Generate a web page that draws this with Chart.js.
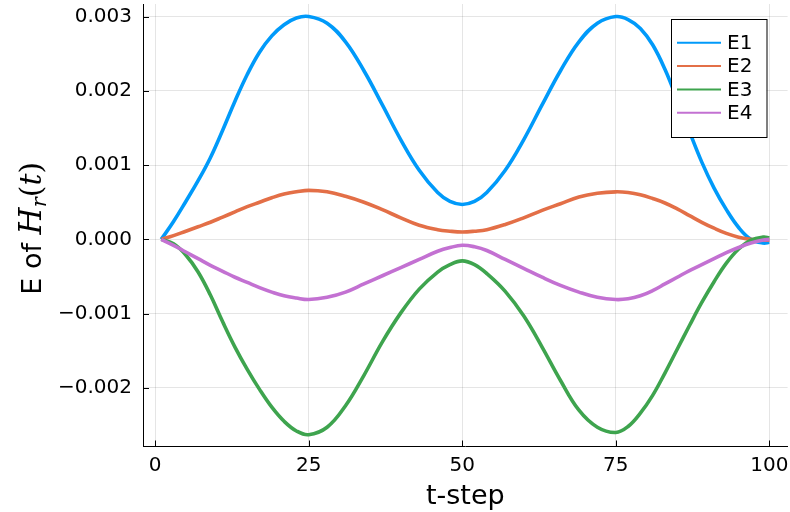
<!DOCTYPE html>
<html><head><meta charset="utf-8">
<script src="https://cdn.jsdelivr.net/npm/chart.js@4.4.0/dist/chart.umd.min.js"></script>
<style>html,body{margin:0;padding:0;background:#fff;}#wrap{width:790px;height:512px;}</style>
</head><body><div id="wrap"><canvas id="c" width="790" height="512"></canvas></div>
<script>
// ---- data ----
const tSteps = [1,3,5,7,9,11,13,15,17,19,21,23,25,28,31,34,37,40,43,46,48,50,52,54,57,60,63,66,69,72,75,77,79,81,83,85,87,89,91,93,95,97,99,100];
const seriesNames = ['E1','E2','E3','E4'];
const e1 = [0,0.00024,0.00051,0.00079,0.00110,0.00147,0.00186,0.00222,0.00252,0.00274,0.00289,0.00298,0.00300,
            0.00291,0.00266,0.00227,0.00181,0.00134,0.00093,0.00063,0.00051,0.00047,0.00051,0.00063,0.00093,0.00134,0.00181,0.00227,0.00266,0.00291,
            0.00300,0.00296,0.00284,0.00262,0.00229,0.00188,0.00145,0.00104,0.00069,0.00040,0.00016,0.00000,-0.00005,-0.00004];
const e2 = [0,0.00005,0.00011,0.00017,0.00023,0.00030,0.00037,0.00044,0.00050,0.00056,0.00061,0.00064,0.00066,
            0.00064,0.00058,0.00050,0.00040,0.00029,0.00019,0.00013,0.00011,0.00010,0.00011,0.00013,0.00020,0.00029,0.00039,0.00048,0.00057,0.00062,
            0.00064,0.00063,0.00060,0.00055,0.00049,0.00041,0.00032,0.00023,0.00015,0.00008,0.00003,0.00000,-0.00001,-0.00001];
const e3 = [0,-0.00006,-0.00021,-0.00044,-0.00075,-0.00111,-0.00145,-0.00175,-0.00202,-0.00226,-0.00245,-0.00258,-0.00263,
            -0.00253,-0.00224,-0.00183,-0.00138,-0.00099,-0.00067,-0.00044,-0.00034,-0.00029,-0.00034,-0.00046,-0.00070,-0.00103,-0.00145,-0.00190,-0.00230,-0.00253,
            -0.00260,-0.00252,-0.00234,-0.00210,-0.00180,-0.00148,-0.00116,-0.00085,-0.00057,-0.00032,-0.00013,-0.00001,0.00003,0.00002];
const e4 = [0,-0.00008,-0.00017,-0.00026,-0.00035,-0.00043,-0.00051,-0.00058,-0.00065,-0.00071,-0.00076,-0.00079,-0.00081,
            -0.00078,-0.00071,-0.00060,-0.00049,-0.00038,-0.00027,-0.00016,-0.00011,-0.00008,-0.00010,-0.00015,-0.00027,-0.00039,-0.00051,-0.00062,-0.00071,-0.00078,
            -0.00081,-0.00080,-0.00076,-0.00069,-0.00060,-0.00051,-0.00042,-0.00034,-0.00026,-0.00018,-0.00011,-0.00005,-0.00001,0.00000];
const xTickValues = [0,25,50,75,100];
const yTickValues = [-0.002,-0.001,0,0.001,0.002,0.003];
const xLabel = 't-step';

// ---- styles ----
const seriesColors = ['#009AFA','#E36F47','#3EA44E','#C371D2'];
const FONT = 'DejaVu Sans';
const allSeries = [e1,e2,e3,e4];

const datasets = allSeries.map((s,k)=>({
  label: seriesNames[k],
  data: tSteps.map((t,i)=>({x:t,y:s[i]})),
  borderColor: seriesColors[k],
  backgroundColor: seriesColors[k],
  borderWidth: 3.6,
  pointRadius: 0,
  fill: false,
  tension: 0.4,
  order: allSeries.length - k
}));

const decor = {
  id: 'decor',
  afterDatasetsDraw(chart){
    const ctx = chart.ctx, a = chart.chartArea;
    const xs = chart.scales.x, ys = chart.scales.y;
    ctx.save();
    // inner tick marks
    ctx.strokeStyle = '#000'; ctx.lineWidth = 1;
    ctx.beginPath();
    xTickValues.forEach(v=>{ const px = Math.round(xs.getPixelForValue(v))+0.5; ctx.moveTo(px, a.bottom); ctx.lineTo(px, a.bottom-6); });
    yTickValues.forEach(v=>{ const py = Math.round(ys.getPixelForValue(v))+0.5; ctx.moveTo(a.left, py); ctx.lineTo(a.left+6, py); });
    ctx.stroke();
    // legend
    const bx = 671, by = 19.5, bw = 95.5, bh = 118;
    ctx.fillStyle = '#fff'; ctx.fillRect(bx, by, bw, bh);
    ctx.strokeStyle = '#000'; ctx.lineWidth = 1; ctx.strokeRect(bx+0.5, by, bw, bh);
    ctx.font = '20px "' + FONT + '"'; ctx.textBaseline = 'middle'; ctx.textAlign = 'left';
    chart.data.datasets.forEach((d,i)=>{
      const cy = 42.7 + i*23.35;
      ctx.strokeStyle = d.borderColor; ctx.lineWidth = 2;
      ctx.beginPath(); ctx.moveTo(677, cy); ctx.lineTo(721, cy); ctx.stroke();
      ctx.fillStyle = '#000'; ctx.fillText(d.label, 727, cy+1);
    });
    // y axis title: E of H_r(t)
    const parts = [
      {t:'E of ', f:'27px "' + FONT + '"', dy:0},
      {t:'H', f:'italic 31px "DejaVu Serif"', dy:0},
      {t:'r', f:'italic 21px "DejaVu Serif"', dy:5},
      {t:'(', f:'30px "DejaVu Serif"', dy:0},
      {t:'t', f:'italic 30px "DejaVu Serif"', dy:0},
      {t:')', f:'30px "DejaVu Serif"', dy:0}
    ];
    let total = 0;
    parts.forEach(p=>{ ctx.font = p.f; p.w = ctx.measureText(p.t).width; total += p.w; });
    const cyTitle = (a.top + a.bottom)/2 + 3;
    ctx.translate(41, cyTitle); ctx.rotate(-Math.PI/2);
    ctx.textBaseline = 'alphabetic'; ctx.fillStyle = '#000';
    let x = -total/2;
    parts.forEach(p=>{ ctx.font = p.f; ctx.fillText(p.t, x, p.dy); x += p.w; });
    ctx.restore();
  }
};

new Chart(document.getElementById('c'), {
  type: 'line',
  data: { datasets },
  options: {
    responsive: false, animation: false, devicePixelRatio: 1,
    layout: { padding: { top: 4, right: 2.4, left: 0, bottom: 0 } },
    plugins: { legend: { display: false }, tooltip: { enabled: false } },
    scales: {
      x: {
        type: 'linear', min: -1.97, max: 102.97,
        afterBuildTicks: s => { s.ticks = xTickValues.map(v=>({value:v})); },
        afterFit: s => { s.height = 65.5; s.paddingLeft = 0; s.paddingRight = 0; },
        grid: { color: 'rgba(0,0,0,0.1)', lineWidth: 1, drawTicks: false },
        border: { display: true, color: '#000', width: 1 },
        ticks: { font: { family: FONT, size: 20 }, color: '#000', padding: 7, maxRotation: 0, autoSkip: false, callback: v => String(v) },
        title: { display: true, text: xLabel, color: '#000', font: { family: FONT, size: 27, lineHeight: 1 }, padding: { top: 0, bottom: 1.5 } }
      },
      y: {
        type: 'linear', min: -0.002789, max: 0.003169,
        afterBuildTicks: s => { s.ticks = yTickValues.map(v=>({value:v})); },
        afterFit: s => { s.width = 143; s.paddingTop = 0; s.paddingBottom = 0; },
        grid: { color: 'rgba(0,0,0,0.1)', lineWidth: 1, drawTicks: false },
        border: { display: true, color: '#000', width: 1 },
        ticks: { font: { family: FONT, size: 20 }, color: '#000', padding: 11, autoSkip: false,
          callback: v => (v < 0 ? '\u2212' : '') + Math.abs(v).toFixed(3) }
      }
    }
  },
  plugins: [decor]
});
</script></body></html>
